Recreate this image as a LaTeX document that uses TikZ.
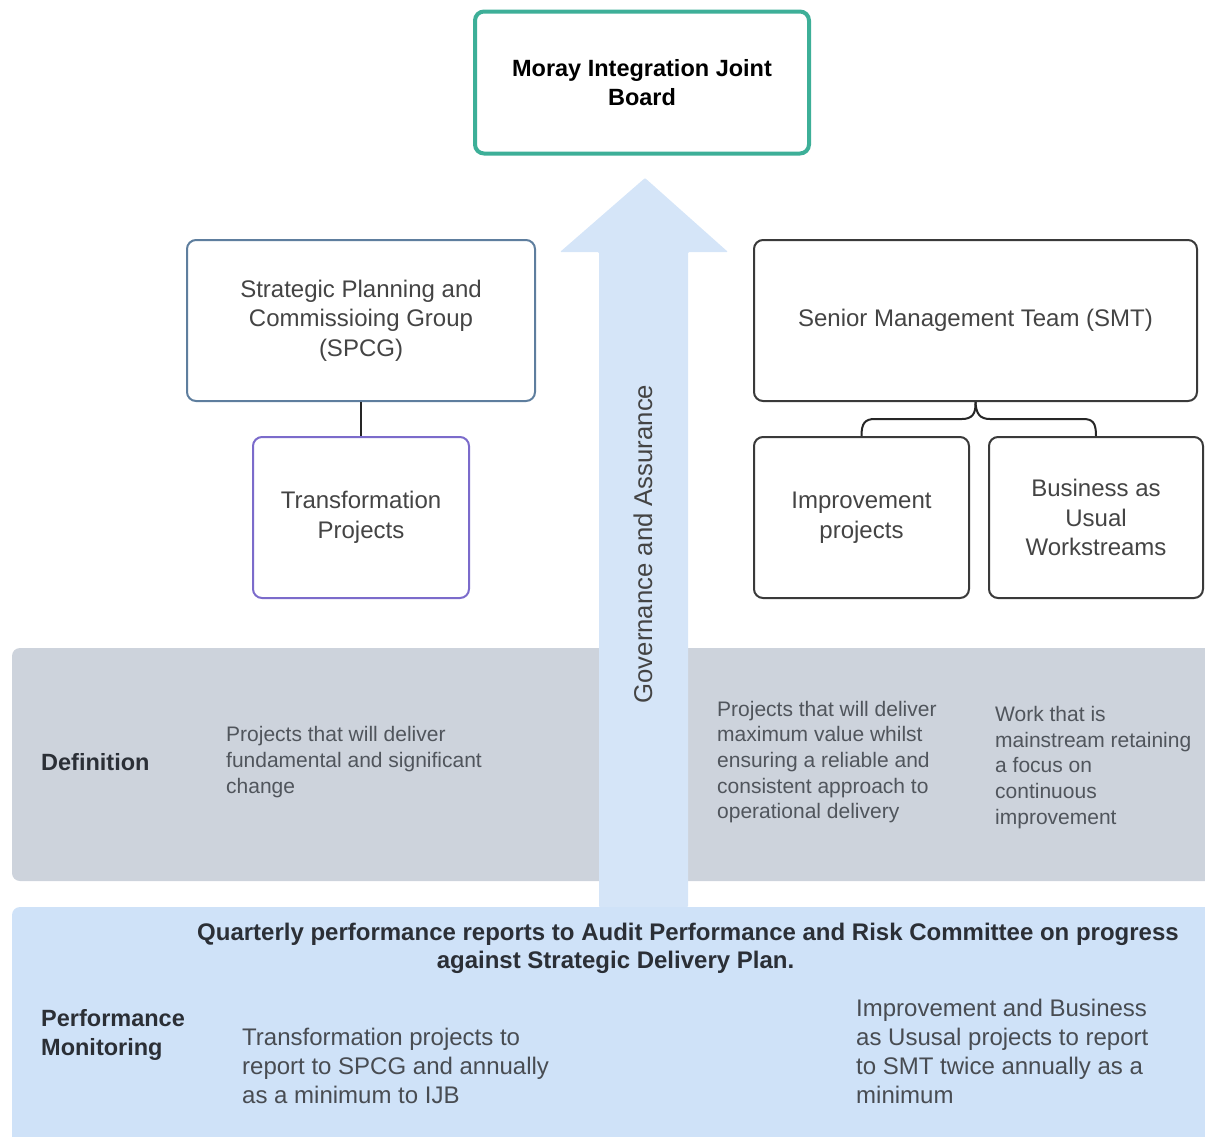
\documentclass[tikz,border=0pt]{standalone}
\usepackage{fontspec}
\setmainfont{Liberation Sans}
\begin{document}
\begin{tikzpicture}[x=1pt,y=-1pt,
  box/.style={draw,line width=2pt,rounded corners=9pt,fill=white,align=center,
    text=boxtext,inner sep=0pt,font=\fontsize{24}{29.5}\selectfont},
  deftext/.style={align=left,anchor=west,inner sep=0pt,text=deftxt,
    font=\fontsize{21}{25.7}\selectfont},
  perftext/.style={align=left,anchor=west,inner sep=0pt,text=perftxt,
    font=\fontsize{24}{29}\selectfont},
  heading/.style={align=left,anchor=west,inner sep=0pt,text=headtxt,
    font=\bfseries\fontsize{23.5}{29}\selectfont},
  banner/.style={inner sep=0pt,text=headtxt,font=\bfseries\fontsize{24}{29}\selectfont},
  conn/.style={draw=black!85,line width=2pt}]
\definecolor{teal}{HTML}{3DAF98}
\definecolor{spcgc}{HTML}{5E7E9E}
\definecolor{transc}{HTML}{7B6BCB}
\definecolor{smtc}{HTML}{3A3A3A}
\definecolor{boxtext}{HTML}{444444}
\definecolor{deftxt}{HTML}{50555C}
\definecolor{perftxt}{HTML}{484C52}
\definecolor{headtxt}{HTML}{2B2F36}
\definecolor{defband}{HTML}{CDD3DC}
\definecolor{perfband}{HTML}{CFE2F8}
\definecolor{arrowc}{HTML}{D5E5F8}
\useasboundingbox (0,0) rectangle (1205,1136);
\clip (0,0) rectangle (1205,1136);

% bands
\fill[defband,rounded corners=8pt] (12,648) rectangle (1220,881);
\fill[perfband,rounded corners=8pt] (12,907) rectangle (1220,1150);

% governance arrow
\fill[arrowc,rounded corners=1pt] (599,907) -- (599,252) -- (560,252) --
  (645,178) -- (728,252) -- (688,252) -- (688,907) -- cycle;
\node[rotate=90,text=boxtext,inner sep=0pt,font=\fontsize{25.7}{29}\selectfont]
  (gov) at (643,544) {Governance and Assurance};

% organisation boxes
\node[box,draw=teal,line width=4pt,text=black,minimum width=334pt,minimum height=142pt,
  font=\bfseries\fontsize{23.5}{29}\selectfont] (ijb) at (642,82.5)
  {Moray Integration Joint\\Board};
\node[box,draw=spcgc,minimum width=348pt,minimum height=161pt] (spcg) at (361,320.5)
  {Strategic Planning and\\Commissioing Group\\(SPCG)};
\node[box,draw=transc,minimum width=216pt,minimum height=161pt] (trans) at (361,517.5)
  {Transformation\\Projects};
\node[box,draw=smtc,minimum width=443pt,minimum height=161pt] (smt) at (975.5,320.5)
  {Senior Management Team (SMT)};
\node[box,draw=smtc,minimum width=215pt,minimum height=161pt] (imp) at (861.5,517.5)
  {Improvement\\projects};
\node[box,draw=smtc,minimum width=214pt,minimum height=161pt] (bau) at (1096,517.5)
  {Business as\\Usual\\Workstreams};

% connectors
\draw[conn] (spcg.south) -- (trans.north);
\draw[conn] (smt.south) .. controls (976,414) and (972,419) .. (962,419) -- (875,419)
  .. controls (865,419) and (861.5,423) .. (imp.north);
\draw[conn] (smt.south) .. controls (976,414) and (980,419) .. (990,419) -- (1083,419)
  .. controls (1093,419) and (1096,423) .. (bau.north);

% definition row
\node[heading] (defh) at (41,762) {Definition};
\node[deftext] (def1) at (226,762)
  {Projects that will deliver\\fundamental and significant\\change};
\node[deftext] (def2) at (717,762)
  {Projects that will deliver\\maximum value whilst\\ensuring a reliable and\\consistent approach to\\operational delivery};
\node[deftext] (def3) at (995,767.5)
  {Work that is\\mainstream retaining\\a focus on\\continuous\\improvement};

% performance monitoring row
\node[banner] (q1) at (688,934)
  {Quarterly performance reports to Audit Performance and Risk Committee on progress};
\node[banner] (q2) at (615.5,962)
  {against Strategic Delivery Plan.};
\node[heading] (perfh) at (41,1034.5) {Performance\\Monitoring};
\node[perftext] (perf1) at (242,1066)
  {Transformation projects to\\report to SPCG and annually\\as a minimum to IJB};
\node[perftext] (perf2) at (856,1051.5)
  {Improvement and Business\\as Ususal projects to report\\to SMT twice annually as a\\minimum};
\end{tikzpicture}
\end{document}
